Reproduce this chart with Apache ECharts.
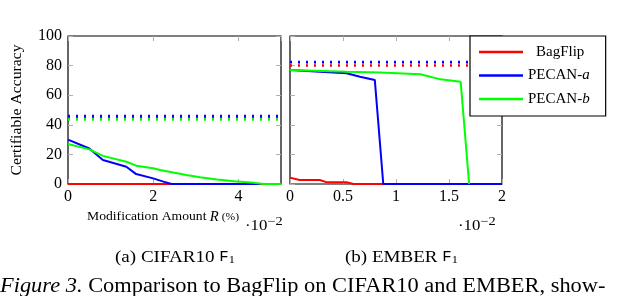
<!DOCTYPE html>
<html><head><meta charset="utf-8">
<script src="https://cdn.jsdelivr.net/npm/echarts@6/dist/echarts.min.js"></script>
<style>html,body{margin:0;padding:0;background:#fff}#c{width:640px;height:296px}</style>
</head><body><div id="c"></div>
<script>
// CIFAR10 (x in units of 1e-2 %)
const cifarBag = [[0,0],[5,0]];
const cifarA = [[0,30],[0.5,24],[0.82,16.2],[1.37,11.7],[1.6,6.7],[2.0,3.8],[2.24,1.6],[2.43,0],[4.5,0]];
const cifarB = [[0,27],[0.5,23.4],[0.82,19],[1.37,15],[1.6,12.4],[2.0,10.6],[2.16,9.5],[2.47,7.7],[2.78,6.1],[3.1,4.5],[3.5,3.1],[3.9,1.8],[4.35,0.9],[4.6,0],[5,0]];
const cifarBagClean = 45, cifarAClean = 46, cifarBClean = 43.5;
// EMBER
const emberBag = [[0,4.3],[0.09,2.7],[0.28,2.7],[0.35,1.1],[0.54,1.1],[0.6,0],[2,0]];
const emberA = [[0,77],[0.28,75.9],[0.535,74.8],[0.66,72.5],[0.8,70.3],[0.88,0],[2,0]];
const emberB = [[0,77],[0.535,75.9],[0.85,75.4],[1.23,74.2],[1.42,70.7],[1.61,69.1],[1.69,0]];
const emberBagClean = 80, emberAClean = 82.5, emberBClean = 82;
const yTicks = [0,20,40,60,80,100];
const seriesNames = ['BagFlip','PECAN-a','PECAN-b'];
const colors = ['#ff0000','#0000ff','#00ff00'];

const FONT = 'Liberation Serif';
const chart = echarts.init(document.getElementById('c'));

function xAx(gi, max, interval, pos, showLabels) {
  return {
    type:'value', gridIndex:gi, min:0, max:max, interval:interval, position:pos,
    axisLine:{show:false, onZero:false},
    axisTick:{show:true, inside:true, length:5, lineStyle:{color:'#b0b0b0', width:1}},
    splitLine:{show:false},
    axisLabel:{show:showLabels, showMaxLabel: max===2, fontFamily:FONT, fontSize:16, color:'#000', margin:5,
      formatter: v => String(v)}
  };
}
function yAx(gi, pos, showLabels) {
  return {
    type:'value', gridIndex:gi, min:0, max:100, interval:20, position:pos,
    axisLine:{show:false, onZero:false},
    axisTick:{show:true, inside:true, length:5, lineStyle:{color:'#b0b0b0', width:1}},
    splitLine:{show:false},
    axisLabel:{show:showLabels, fontFamily:FONT, fontSize:16, color:'#000', margin:6}
  };
}
function line(name, data, color, xi, yi, z) {
  return {name:name, type:'line', xAxisIndex:xi, yAxisIndex:yi, data:data, showSymbol:false,
    lineStyle:{color:color, width:2}, itemStyle:{color:color}, z:z, animation:false};
}
function dotted(name, val, color, xi, yi, max, z) {
  return {name:name, type:'line', xAxisIndex:xi, yAxisIndex:yi, data:[[0,val],[max,val]], showSymbol:false,
    lineStyle:{color:color, width:2.5, type:[2,6], cap:'butt'}, itemStyle:{color:color}, z:z, animation:false};
}

const option = {
  animation:false,
  grid:[
    {left:68, top:36, width:213, height:148, show:true, borderColor:'#000', borderWidth:1.2, backgroundColor:'transparent'},
    {left:290, top:36, width:212, height:148, show:true, borderColor:'#000', borderWidth:1.2, backgroundColor:'transparent'}
  ],
  xAxis:[ xAx(0,5,2,'bottom',true), xAx(0,5,2,'top',false), xAx(1,2,0.5,'bottom',true), xAx(1,2,0.5,'top',false) ],
  yAxis:[ yAx(0,'left',true), yAx(0,'right',false), yAx(1,'left',false), yAx(1,'right',false) ],
  legend:{
    orient:'vertical', left:470, top:36, width:138,
    data: seriesNames.map(n => ({name:n, icon:'rect'})),
    itemWidth:44, itemHeight:2.5, itemGap:7.5,
    padding:[8,16,9,9],
    backgroundColor:'#fff', borderColor:'#000', borderWidth:1.2,
    textStyle:{fontFamily:FONT, fontSize:15, color:'#000', lineHeight:16,
      rich:{
        n:{fontFamily:FONT, fontSize:15, color:'#000'},
        i:{fontFamily:FONT, fontSize:15, fontStyle:'italic', color:'#000'},
        p:{width:8}
      }},
    formatter: n => n === 'BagFlip' ? '{p|}{n|BagFlip}' : '{n|PECAN-}{i|' + n.slice(-1) + '}'
  },
  series:[
    dotted('BagFlip', cifarBagClean, colors[0], 0, 0, 5, 2),
    dotted('PECAN-a', cifarAClean, colors[1], 0, 0, 5, 2),
    dotted('PECAN-b', cifarBClean, colors[2], 0, 0, 5, 2),
    line('BagFlip', cifarBag, colors[0], 0, 0, 3),
    line('PECAN-a', cifarA, colors[1], 0, 0, 4),
    line('PECAN-b', cifarB, colors[2], 0, 0, 5),
    dotted('BagFlip', emberBagClean, colors[0], 2, 2, 2, 2),
    dotted('PECAN-b', emberBClean, colors[2], 2, 2, 2, 2),
    dotted('PECAN-a', emberAClean, colors[1], 2, 2, 2, 2),
    line('BagFlip', emberBag, colors[0], 2, 2, 3),
    line('PECAN-a', emberA, colors[1], 2, 2, 4),
    line('PECAN-b', emberB, colors[2], 2, 2, 5)
  ],
  graphic:[
    {type:'text', x:17, y:110, rotation:Math.PI/2, scaleX:1.12, style:{text:'Certifiable Accuracy', font:'14px "Liberation Serif"', fill:'#000', align:'center', verticalAlign:'middle'}},
    {type:'text', x:87, y:210, scaleX:1.05, style:{rich:{a:{font:'13px "Liberation Serif"', fill:'#000'}, r:{font:'italic 14px "Liberation Serif"', fill:'#000'}, s:{font:'11px "Liberation Serif"', fill:'#000'}},
      text:'{a|Modification Amount }{r|R}{s| (%)}'}},
    {type:'text', x:245, y:216, scaleX:1.2, style:{rich:{a:{font:'14px "Liberation Serif"', fill:'#000'}, e:{font:'12px "Liberation Serif"', fill:'#000', verticalAlign:'top', padding:[0,0,8,0]}}, text:'{a|·10}{e|−2}'}},
    {type:'text', x:458, y:216, scaleX:1.2, style:{rich:{a:{font:'14px "Liberation Serif"', fill:'#000'}, e:{font:'12px "Liberation Serif"', fill:'#000', verticalAlign:'top', padding:[0,0,8,0]}}, text:'{a|·10}{e|−2}'}},
    {type:'text', x:115, y:249, scaleX:1.12, style:{rich:{a:{font:'17px "Liberation Serif"', fill:'#000'}, f:{font:'14px "Liberation Mono"', fill:'#000'}, s:{font:'11px "Liberation Serif"', fill:'#000', padding:[6,0,0,0]}}, text:'{a|(a) CIFAR10 }{f|F}{s|1}'}},
    {type:'text', x:345, y:249, scaleX:1.12, style:{rich:{a:{font:'17px "Liberation Serif"', fill:'#000'}, f:{font:'14px "Liberation Mono"', fill:'#000'}, s:{font:'11px "Liberation Serif"', fill:'#000', padding:[6,0,0,0]}}, text:'{a|(b) EMBER }{f|F}{s|1}'}},
    {type:'text', x:0, y:277, scaleX:1.12, style:{rich:{i:{font:'italic 20px "Liberation Serif"', fill:'#000'}, a:{font:'20px "Liberation Serif"', fill:'#000'}}, text:'{i|Figure 3.}{a| Comparison to BagFlip on CIFAR10 and EMBER, show-}'}}
  ]
};
chart.setOption(option);
</script></body></html>
